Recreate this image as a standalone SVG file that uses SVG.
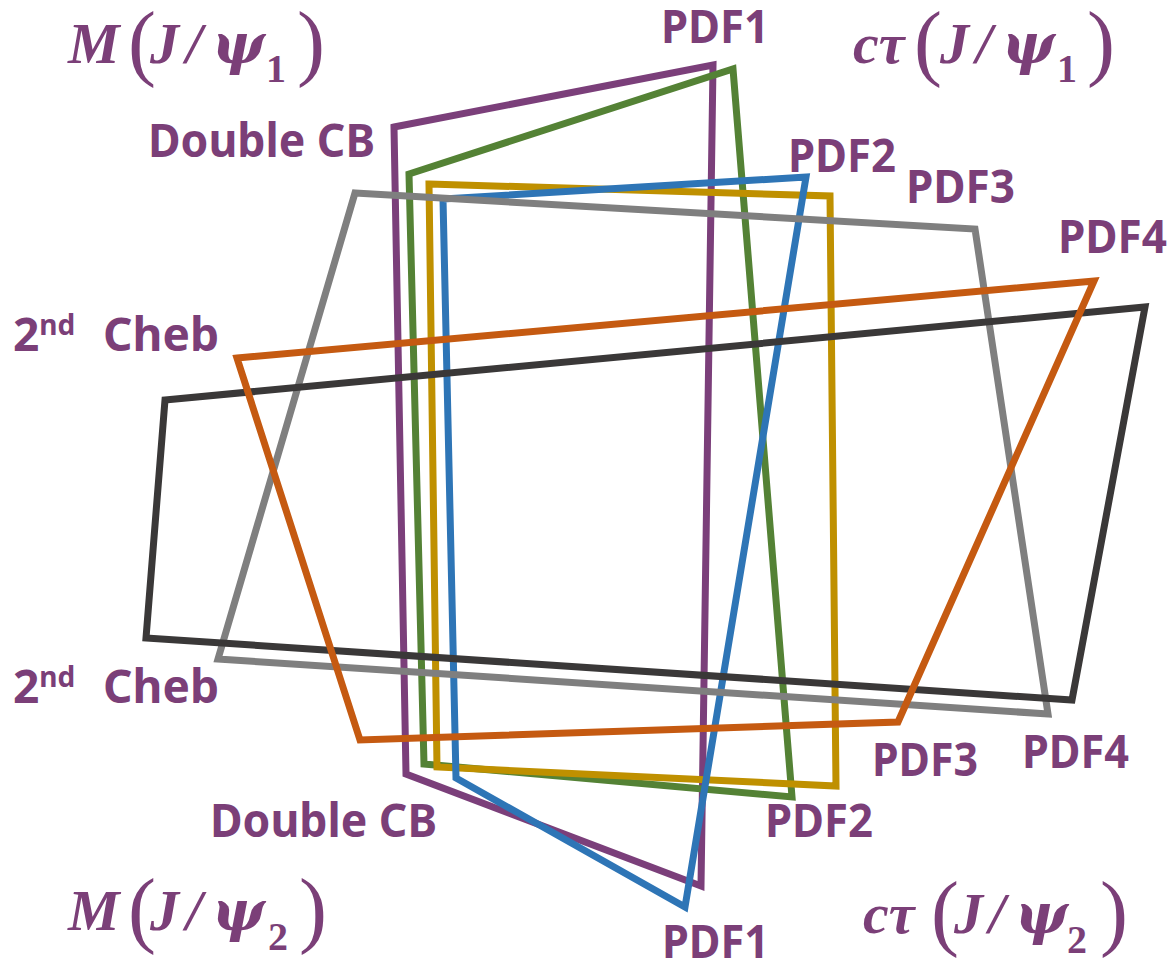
<svg xmlns="http://www.w3.org/2000/svg" width="1173" height="964" viewBox="0 0 1173 964">
<style>
.sh{fill:none;stroke-width:7;stroke-linejoin:miter;stroke-miterlimit:10}
.lb{font-family:"Noto Sans","Liberation Sans",sans-serif;font-weight:bold;font-size:46px;fill:#7B3F78}
.sup{font-size:28px}
.mt{font-family:"Liberation Serif","DejaVu Serif",serif;font-weight:bold;font-style:italic;font-size:58px;fill:#7B3F78}
.par{font-style:normal;font-weight:normal;font-size:84px}
.psi{font-family:"DejaVu Serif",serif;font-size:56px}
.sub{font-style:normal;font-size:40px}
</style>
<rect width="1173" height="964" fill="#ffffff"/>
<g id="connectors">
<polygon id="purple" class="sh" stroke="#7B3F7A" points="394,127 713,65 701,886 406,774"/>
<polygon id="green" class="sh" stroke="#548235" points="409,174 733,69 792,797 424,764"/>
<polygon id="yellow" class="sh" stroke="#BF9000" points="429,184 830,196 836,786 437,767"/>
<polygon id="blue" class="sh" stroke="#2E75B6" points="443,199 806,177 685,907 456,778"/>
<polygon id="gray" class="sh" stroke="#7F7F7F" points="355,193 975,229 1048,714 218,659"/>
<polygon id="dark" class="sh" stroke="#3A3838" points="165,400 1145,307 1072,700 146,638"/>
<polygon id="orange" class="sh" stroke="#C55A11" points="237,358 1094,281 898,722 360,740"/>
</g>
<g id="labels">
<text class="lb" x="661" y="43" textLength="108" lengthAdjust="spacingAndGlyphs">PDF1</text>
<text class="lb" x="148" y="157" textLength="227" lengthAdjust="spacingAndGlyphs">Double CB</text>
<text class="lb" x="788" y="172" textLength="108" lengthAdjust="spacingAndGlyphs">PDF2</text>
<text class="lb" x="906" y="203" textLength="109" lengthAdjust="spacingAndGlyphs">PDF3</text>
<text class="lb" x="1058" y="253" textLength="109" lengthAdjust="spacingAndGlyphs">PDF4</text>
<text class="lb" x="13" y="351">2<tspan class="sup" dy="-16">nd</tspan><tspan x="103" dy="16">Cheb</tspan></text>
<text class="lb" x="13" y="703">2<tspan class="sup" dy="-16">nd</tspan><tspan x="103" dy="16">Cheb</tspan></text>
<text class="lb" x="210" y="837" textLength="227" lengthAdjust="spacingAndGlyphs">Double CB</text>
<text class="lb" x="765" y="837" textLength="108" lengthAdjust="spacingAndGlyphs">PDF2</text>
<text class="lb" x="872" y="776" textLength="106" lengthAdjust="spacingAndGlyphs">PDF3</text>
<text class="lb" x="1022" y="768" textLength="107" lengthAdjust="spacingAndGlyphs">PDF4</text>
<text class="lb" x="662" y="958" textLength="107" lengthAdjust="spacingAndGlyphs">PDF1</text>
</g>
<g id="math">
<text class="mt" y="63"><tspan x="68">M</tspan><tspan class="par" x="128" y="70">(</tspan><tspan x="150" y="63">J</tspan><tspan x="186">/</tspan><tspan class="psi" x="212">ψ</tspan><tspan class="sub" x="266" y="82">1</tspan><tspan class="par" x="297" y="70">)</tspan></text>
<text class="mt" y="63"><tspan x="853">cτ</tspan><tspan class="par" x="914" y="70">(</tspan><tspan x="940" y="63">J</tspan><tspan x="976">/</tspan><tspan class="psi" x="1002">ψ</tspan><tspan class="sub" x="1057" y="82">1</tspan><tspan class="par" x="1087" y="70">)</tspan></text>
<text class="mt" y="930"><tspan x="68">M</tspan><tspan class="par" x="128" y="937">(</tspan><tspan x="150" y="930">J</tspan><tspan x="186">/</tspan><tspan class="psi" x="212">ψ</tspan><tspan class="sub" x="268" y="950">2</tspan><tspan class="par" x="299" y="937">)</tspan></text>
<text class="mt" y="933"><tspan x="863">cτ</tspan><tspan class="par" x="931" y="940">(</tspan><tspan x="954" y="933">J</tspan><tspan x="989">/</tspan><tspan class="psi" x="1015">ψ</tspan><tspan class="sub" x="1067" y="953">2</tspan><tspan class="par" x="1100" y="940">)</tspan></text>
</g>
</svg>
